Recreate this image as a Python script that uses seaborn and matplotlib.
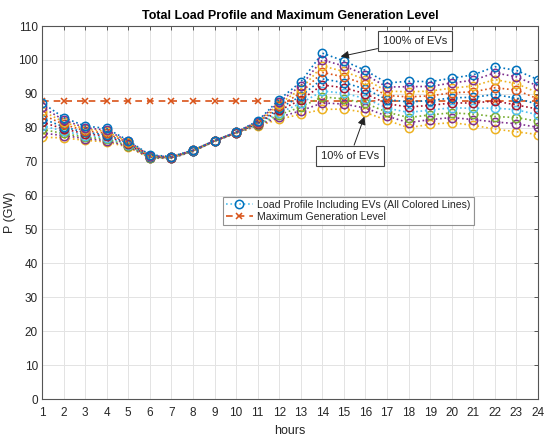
"""Total load profile with EV penetration levels vs. maximum generation."""

import matplotlib

matplotlib.use("Agg")

import matplotlib.pyplot as plt
import pandas as pd
import seaborn as sns
from matplotlib.lines import Line2D

HOURS = list(range(1, 25))

# Load profile (GW) for EV penetration 10% ... 100%
EV_10 = [77.2, 77.0, 76.3, 75.8, 74.3, 71.0, 71.0, 73.0, 76.0, 78.4, 80.5, 82.5,
         84.0, 85.4, 85.5, 84.5, 82.2, 80.0, 81.0, 81.5, 80.7, 79.6, 78.8, 78.0]
EV_20 = [78.4, 77.7, 76.8, 76.2, 74.5, 71.1, 71.05, 73.0, 76.0, 78.4, 80.7, 83.1,
         85.0, 87.3, 87.0, 85.8, 83.4, 81.5, 82.4, 83.0, 82.4, 81.7, 81.2, 80.1]
EV_30 = [79.5, 78.3, 77.2, 76.7, 74.7, 71.2, 71.1, 73.1, 76.0, 78.5, 80.8, 83.8,
         86.1, 89.1, 88.5, 87.2, 84.6, 83.0, 83.8, 84.4, 84.0, 83.3, 83.0, 81.9]
EV_40 = [80.6, 79.0, 77.7, 77.1, 74.9, 71.3, 71.15, 73.1, 76.1, 78.5, 81.0, 84.4,
         87.2, 90.8, 90.2, 88.6, 85.8, 84.5, 85.2, 85.9, 85.7, 85.8, 85.3, 83.8]
EV_50 = [81.6, 79.7, 78.2, 77.6, 75.1, 71.4, 71.2, 73.2, 76.1, 78.5, 81.2, 85.1,
         88.2, 92.6, 91.8, 90.0, 87.1, 86.1, 86.6, 87.3, 87.3, 87.9, 86.7, 85.5]
EV_60 = [82.7, 80.3, 78.6, 78.0, 75.4, 71.5, 71.25, 73.2, 76.1, 78.6, 81.3, 85.7,
         89.3, 94.4, 93.3, 91.4, 88.3, 87.6, 88.0, 88.8, 89.0, 89.8, 88.7, 86.9]
EV_70 = [83.9, 81.0, 79.1, 78.4, 75.6, 71.6, 71.3, 73.3, 76.1, 78.6, 81.5, 86.3,
         90.3, 96.3, 95.0, 92.8, 89.5, 89.1, 89.4, 90.3, 90.6, 91.8, 91.1, 88.5]
EV_80 = [85.0, 81.7, 79.6, 78.9, 75.8, 71.7, 71.35, 73.3, 76.2, 78.6, 81.7, 87.0,
         91.4, 98.2, 96.6, 94.2, 90.8, 90.6, 90.8, 91.7, 92.3, 94.2, 93.0, 90.3]
EV_90 = [86.1, 82.3, 80.0, 79.3, 76.0, 71.8, 71.4, 73.4, 76.2, 78.7, 81.8, 87.6,
         92.4, 100.0, 98.2, 95.6, 92.0, 92.1, 92.2, 93.2, 94.0, 96.2, 95.0, 92.3]
EV_100 = [87.4, 83.0, 80.5, 79.8, 76.2, 72.0, 71.5, 73.4, 76.2, 78.7, 82.0, 88.3,
          93.5, 102.0, 99.7, 96.9, 93.2, 93.7, 93.6, 94.6, 95.6, 98.0, 96.9, 94.2]

EV_LEVELS = ["10%", "20%", "30%", "40%", "50%", "60%", "70%", "80%", "90%", "100%"]
EV_SERIES = [EV_10, EV_20, EV_30, EV_40, EV_50, EV_60, EV_70, EV_80, EV_90, EV_100]

MAX_GEN = [88.0] * 24

LINE_COLORS = ["#EDB120", "#7E2F8E", "#77AC30", "#4DBEEE", "#A2142F",
               "#0072BD", "#D95319", "#EDB120", "#7E2F8E", "#0072BD"]
MAX_COLOR = "#D95319"

sns.set_theme(style="whitegrid")
plt.rcParams["font.family"] = ["Liberation Sans", "DejaVu Sans"]

load_df = pd.concat(
    [pd.DataFrame({"hour": HOURS, "load": vals, "level": lvl})
     for lvl, vals in zip(EV_LEVELS, EV_SERIES)],
    ignore_index=True,
)
max_df = pd.DataFrame({"hour": HOURS, "load": MAX_GEN})

fig = plt.figure(figsize=(5.5, 4.4), dpi=100)
ax = fig.add_axes([42 / 550, 1 - 399 / 440, 496 / 550, 373 / 440])

sns.lineplot(data=max_df, x="hour", y="load", color=MAX_COLOR, ax=ax,
             linestyle=(0, (4, 3)), linewidth=1.2, marker="x", markersize=4.5,
             markeredgecolor=MAX_COLOR, markeredgewidth=1.1, zorder=1.5)

for lvl, color in zip(EV_LEVELS, LINE_COLORS):
    sub = load_df[load_df["level"] == lvl]
    sns.lineplot(data=sub, x="hour", y="load", color=color, ax=ax,
                 linestyle=":", linewidth=1.2, marker="o", markersize=6,
                 markerfacecolor="none", markeredgecolor=color,
                 markeredgewidth=1.1, zorder=2)

ax.set_xlim(1, 24)
ax.set_ylim(0, 110)
ax.set_xticks(HOURS)
ax.set_yticks(range(0, 111, 10))
ax.set_facecolor("white")
ax.grid(True, color="#e3e3e3", linewidth=0.7)
ax.set_axisbelow(True)
for side in ax.spines.values():
    side.set_color("#555555")
    side.set_linewidth(0.8)
ax.tick_params(direction="in", length=3, width=0.7, color="#555555",
               top=True, right=True, labelsize=8.5, labelcolor="#262626")
ax.tick_params(axis="x", pad=6)
ax.tick_params(axis="y", pad=3)

ax.set_xlabel("hours", fontsize=9, color="#262626", labelpad=4)
ax.set_ylabel("P (GW)", fontsize=9, color="#262626")
ax.yaxis.set_label_coords(-0.052, 0.5)
ax.set_title("Total Load Profile and Maximum Generation Level",
             fontsize=9, fontweight="bold", color="black", pad=5)

box = dict(boxstyle="square,pad=0.45", facecolor="white",
           edgecolor="#444444", linewidth=0.8)
ax.annotate("100% of EVs", xy=(14.85, 101.0), xytext=(18.3, 105.7),
            fontsize=8, ha="center", va="center", bbox=box,
            arrowprops=dict(arrowstyle="-|>", color="#222222", lw=0.7,
                            shrinkA=0, shrinkB=0, mutation_scale=12))
ax.annotate("10% of EVs", xy=(15.95, 83.3), xytext=(15.3, 71.8),
            fontsize=8, ha="center", va="center", bbox=box,
            arrowprops=dict(arrowstyle="-|>", color="#222222", lw=0.7,
                            shrinkA=0, shrinkB=0, mutation_scale=12))

handles = [
    Line2D([], [], color="#4DBEEE", linestyle=":", linewidth=1.2, marker="o",
           markersize=6, markerfacecolor="none", markeredgecolor="#0072BD",
           markeredgewidth=1.1),
    Line2D([], [], color=MAX_COLOR, linestyle=(0, (4, 3)), linewidth=1.2,
           marker="x", markersize=4.5, markeredgewidth=1.1),
]
leg = ax.legend(handles, ["Load Profile Including EVs (All Colored Lines)",
                          "Maximum Generation Level"],
                loc="upper left", bbox_to_anchor=(0.364, 0.542),
                borderaxespad=0, fontsize=7.6, frameon=True, fancybox=False,
                handlelength=2.6, handletextpad=0.4, labelspacing=0.15,
                borderpad=0.3)
leg.get_frame().set_edgecolor("#777777")
leg.get_frame().set_linewidth(0.8)

fig.savefig("out.png", dpi=100)
